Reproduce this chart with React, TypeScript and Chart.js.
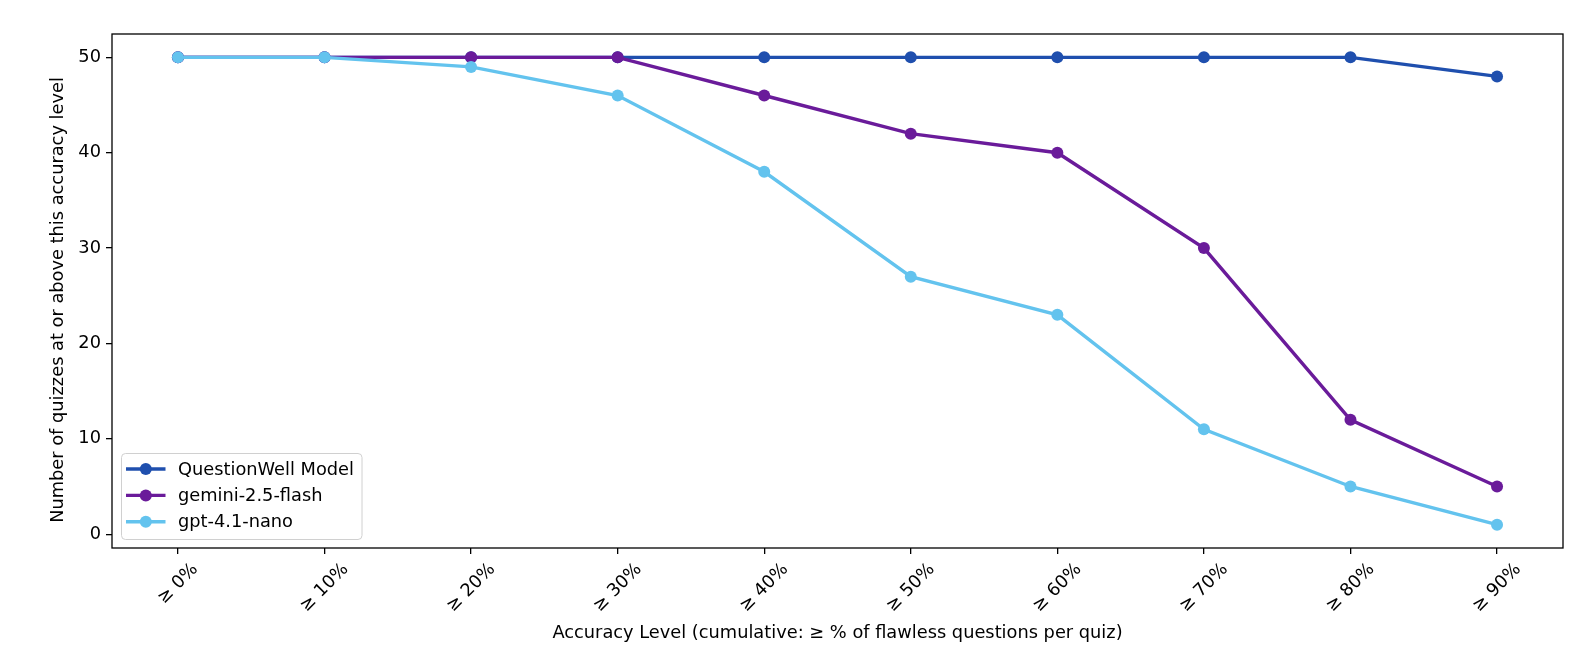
import { useEffect, useRef } from "react";
import { Chart, registerables } from "chart.js";

Chart.register(...registerables);

const categories = ["≥ 0%", "≥ 10%", "≥ 20%", "≥ 30%", "≥ 40%", "≥ 50%", "≥ 60%", "≥ 70%", "≥ 80%", "≥ 90%"];
const questionWell = [50, 50, 50, 50, 50, 50, 50, 50, 50, 48];
const gemini = [50, 50, 50, 50, 46, 42, 40, 30, 12, 5];
const gptNano = [50, 50, 49, 46, 38, 27, 23, 11, 5, 1];
const seriesNames = ["QuestionWell Model", "gemini-2.5-flash", "gpt-4.1-nano"];
const seriesColors = ["#1f4fae", "#6a1b9a", "#63c3ee"];
const yTicks = [0, 10, 20, 30, 40, 50];
const xTitle = "Accuracy Level (cumulative: ≥ % of flawless questions per quiz)";
const yTitle = "Number of quizzes at or above this accuracy level";

const FONT = "DejaVu Sans";
const FS = 17.8;
const LW = 3.4;
const PR = 6;

const decorPlugin = {
  id: "decor",
  afterDraw(chart: any) {
    const { ctx, chartArea } = chart;
    const { left, right, top, bottom } = chartArea;
    const xs = chart.scales.x;
    ctx.save();
    // frame
    ctx.strokeStyle = "#000";
    ctx.lineWidth = 1.3;
    ctx.strokeRect(left, top, right - left, bottom - top);

    // x tick labels rotated 45, centered under the tick
    ctx.font = `${FS}px "${FONT}"`;
    ctx.fillStyle = "#000";
    ctx.textAlign = "center";
    ctx.textBaseline = "middle";
    categories.forEach((lab, i) => {
      const px = xs.getPixelForValue(i);
      const w = ctx.measureText(lab).width;
      const box = (w + 13) / Math.SQRT2;
      const cy = bottom + 14 + box / 2;
      ctx.save();
      ctx.translate(px, cy);
      ctx.rotate(-Math.PI / 4);
      ctx.fillText(lab, 0, 0);
      ctx.restore();
    });

    // axis titles
    ctx.textAlign = "center";
    ctx.textBaseline = "alphabetic";
    ctx.fillText(xTitle, (left + right) / 2, 638);
    ctx.save();
    ctx.translate(58, 300);
    ctx.rotate(-Math.PI / 2);
    ctx.textBaseline = "middle";
    ctx.fillText(yTitle, 0, 0);
    ctx.restore();

    // legend
    const lx = left + 9.5;
    const ly = bottom - 94.5;
    const lw = 240.5;
    const lh = 86;
    ctx.beginPath();
    ctx.roundRect(lx, ly, lw, lh, 4);
    ctx.fillStyle = "rgba(255,255,255,0.8)";
    ctx.fill();
    ctx.strokeStyle = "#d0d0d0";
    ctx.lineWidth = 1;
    ctx.stroke();
    chart.data.datasets.forEach((ds: any, i: number) => {
      const ry = ly + 15.5 + i * 26.4;
      ctx.strokeStyle = ds.borderColor;
      ctx.lineWidth = LW;
      ctx.beginPath();
      ctx.moveTo(lx + 4.5, ry);
      ctx.lineTo(lx + 44, ry);
      ctx.stroke();
      ctx.fillStyle = ds.borderColor;
      ctx.beginPath();
      ctx.arc(lx + 24.3, ry, PR, 0, Math.PI * 2);
      ctx.fill();
      ctx.fillStyle = "#000";
      ctx.textAlign = "left";
      ctx.textBaseline = "middle";
      ctx.fillText(ds.label, lx + 56.5, ry + 1);
    });
    ctx.restore();
  },
};

export default function App() {
  const ref = useRef<HTMLCanvasElement>(null);
  useEffect(() => {
    if (!ref.current) return;
    const series = [questionWell, gemini, gptNano];
    const chart = new Chart(ref.current, {
      type: "line",
      data: {
        datasets: series.map((vals, k) => ({
          label: seriesNames[k],
          data: vals.map((v, i) => ({ x: i, y: v })),
          borderColor: seriesColors[k],
          backgroundColor: seriesColors[k],
          pointBackgroundColor: seriesColors[k],
          pointBorderWidth: 0,
          pointRadius: PR,
          borderWidth: LW,
          tension: 0,
          fill: false,
          order: 2 - k,
        })),
      },
      options: {
        animation: false,
        responsive: false,
        devicePixelRatio: 1,
        layout: { padding: { top: 34, right: 31, left: 0, bottom: 0 } },
        plugins: { legend: { display: false }, tooltip: { enabled: false } },
        scales: {
          x: {
            type: "linear",
            min: -0.45,
            max: 9.45,
            afterBuildTicks: (s: any) => {
              s.ticks = categories.map((_, i) => ({ value: i }));
            },
            afterFit: (s: any) => {
              s.height = 120;
            },
            ticks: { display: false, autoSkip: false },
            grid: { drawOnChartArea: false, drawTicks: true, tickLength: 6, color: "#000", lineWidth: 1.3 },
            border: { display: false },
          },
          y: {
            type: "linear",
            min: -1.45,
            max: 52.45,
            afterBuildTicks: (s: any) => {
              s.ticks = yTicks.map((v) => ({ value: v }));
            },
            afterFit: (s: any) => {
              s.width = 112;
            },
            ticks: { autoSkip: false, padding: 5, color: "#000", font: { family: FONT, size: FS } },
            grid: { drawOnChartArea: false, drawTicks: true, tickLength: 6, color: "#000", lineWidth: 1.3 },
            border: { display: false },
          },
        },
      },
      plugins: [decorPlugin],
    });
    return () => chart.destroy();
  }, []);
  return (
    <div style={{ position: "fixed", left: 0, top: 0, width: 1594, height: 668, background: "#fff" }}>
      <canvas ref={ref} width={1594} height={668} style={{ width: 1594, height: 668 }} />
    </div>
  );
}
